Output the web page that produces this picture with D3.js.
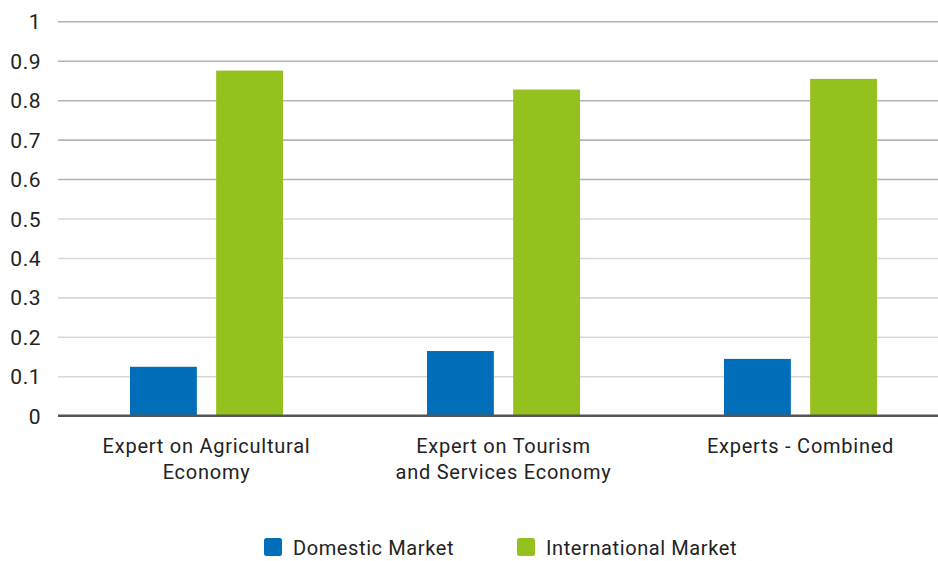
<!DOCTYPE html>
<html>
<head>
<meta charset="utf-8">
<script src="https://cdn.jsdelivr.net/npm/d3@7"></script>
<style>
  html, body { margin: 0; padding: 0; background: #fff; }
  svg { display: block; font-family: Roboto, "DejaVu Sans", sans-serif; }
</style>
</head>
<body>
<svg id="chart" width="938" height="561"></svg>
<script>
// Expert groups shown along the x axis (each label may wrap onto two lines)
const categories = [
  ["Expert on Agricultural", "Economy"],
  ["Expert on Tourism", "and Services Economy"],
  ["Experts - Combined"]
];
const seriesNames = ["Domestic Market", "International Market"];
const domestic = [0.124, 0.164, 0.144];
const international = [0.875, 0.827, 0.854];
const yTicks = [0, 0.1, 0.2, 0.3, 0.4, 0.5, 0.6, 0.7, 0.8, 0.9, 1];
const colors = ["#006eb8", "#95c11f"];

(function draw() {
  const svg = d3.select("#chart");
  const plotLeft = 58, plotRight = 949, plotTop = 21.3, plotBottom = 415.7;

  const keys = categories.map((c, i) => i);
  const x = d3.scaleBand().domain(keys).range([plotLeft, plotRight]);
  const y = d3.scaleLinear().domain([0, 1]).range([plotBottom, plotTop]);

  // Inner band split into the two series
  const groupWidth = 153;
  const xs = d3.scaleBand().domain([0, 1]).range([0, groupWidth]).paddingInner(0.224);

  // Horizontal gridlines with labels on the left
  const yAxis = d3.axisLeft(y).tickValues(yTicks).tickSize(0).tickPadding(0)
    .tickFormat(d => d === 0 ? "0" : d === 1 ? "1" : d3.format(".1f")(d));
  const gy = svg.append("g").attr("transform", `translate(${plotLeft},0)`).call(yAxis);
  gy.select(".domain").remove();
  gy.selectAll(".tick text")
    .attr("x", -17)
    .attr("dy", "0.36em")
    .attr("font-size", 21)
    .attr("font-family", "Roboto, sans-serif")
    .attr("letter-spacing", 0.5)
    .attr("fill", "#222");
  gy.selectAll(".tick").filter(d => d > 0).append("line")
    .attr("x1", 0).attr("x2", plotRight - plotLeft)
    .attr("stroke", d => d >= 0.55 ? "#b4b4b4" : "#d7d7d7")
    .attr("stroke-width", 1.6);

  // Bars
  const groups = svg.append("g").selectAll("g.grp")
    .data(keys).join("g")
    .attr("transform", i => `translate(${x(i) + (x.bandwidth() - groupWidth) / 2},0)`);

  groups.selectAll("rect")
    .data(i => [domestic[i], international[i]].map((v, s) => ({ v, s })))
    .join("rect")
    .attr("x", d => xs(d.s))
    .attr("width", xs.bandwidth())
    .attr("y", d => y(d.v))
    .attr("height", d => y(0) - y(d.v))
    .attr("fill", d => colors[d.s]);

  // Baseline
  svg.append("line")
    .attr("x1", plotLeft).attr("x2", plotRight)
    .attr("y1", y(0)).attr("y2", y(0))
    .attr("stroke", "#555").attr("stroke-width", 2.5);

  // Category labels
  const xAxis = d3.axisBottom(x).tickSize(0).tickFormat(() => "");
  const gx = svg.append("g").attr("transform", `translate(0,${plotBottom})`).call(xAxis);
  gx.select(".domain").remove();
  gx.selectAll(".tick").each(function (i) {
    const t = d3.select(this).append("text")
      .attr("text-anchor", "middle")
      .attr("font-size", 20)
      .attr("letter-spacing", 0.75)
      .attr("font-family", "Roboto, sans-serif")
      .attr("fill", "#222")
      .attr("y", 37);
    categories[i].forEach((line, k) => {
      t.append("tspan").attr("x", 0).attr("dy", k === 0 ? 0 : 26).text(line);
    });
  });

  // Legend
  const legendItems = [
    { name: seriesNames[0], color: colors[0], x: 264 },
    { name: seriesNames[1], color: colors[1], x: 517 }
  ];
  const lg = svg.append("g").selectAll("g").data(legendItems).join("g")
    .attr("transform", d => `translate(${d.x},538)`);
  lg.append("rect").attr("width", 18).attr("height", 18).attr("rx", 2.5)
    .attr("fill", d => d.color);
  lg.append("text").attr("x", 29).attr("y", 16.5)
    .attr("font-size", 20).attr("letter-spacing", 0.6)
    .attr("font-family", "Roboto, sans-serif")
    .attr("fill", "#222").text(d => d.name);
})();
</script>
</body>
</html>
